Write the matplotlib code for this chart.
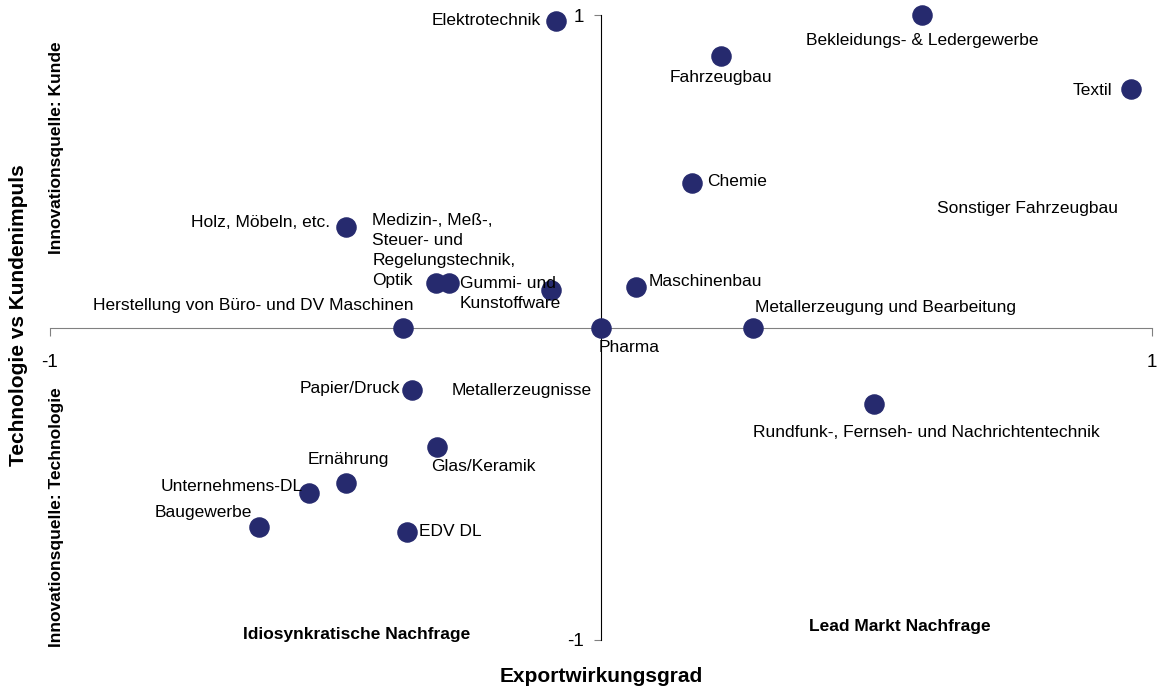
import matplotlib
matplotlib.use("Agg")
import matplotlib.pyplot as plt

plt.rcParams['font.family'] = ['Liberation Sans', 'DejaVu Sans']

# data
branchen = ["Elektrotechnik", "Bekleidungs- & Ledergewerbe", "Fahrzeugbau", "Textil",
            "Chemie", "Holz, Möbeln, etc.",
            "Medizin-, Meß-,\nSteuer- und\nRegelungstechnik,\nOptik",
            "Gummi- und\nKunstoffware", "", "Maschinenbau",
            "Herstellung von Büro- und DV Maschinen", "Pharma",
            "Metallerzeugung und Bearbeitung",
            "Rundfunk-, Fernseh- und Nachrichtentechnik", "Papier/Druck",
            "Glas/Keramik", "Ernährung", "Unternehmens-DL", "Baugewerbe", "EDV DL"]
export = [-0.082, 0.583, 0.218, 0.962, 0.165, -0.463, -0.299, -0.276, -0.091, 0.064,
          -0.359, 0.0, 0.276, 0.495, -0.343, -0.297, -0.463, -0.530, -0.620, -0.352]
impuls = [0.981, 1.0, 0.869, 0.763, 0.462, 0.322, 0.142, 0.142, 0.12, 0.131,
          0.0, 0.0, 0.0, -0.246, -0.2, -0.382, -0.499, -0.53, -0.637, -0.653]

# extra labels without a visible point
extra_labels = ["Sonstiger Fahrzeugbau", "Metallerzeugnisse"]
extra_x = [0.610, -0.272]
extra_y = [0.382, -0.2]

# label placement (offset in pixels, alignment)
offsets = [(-15, 0, "right"), (0, -25, "center"), (0, -22, "center"),
           (-19, -1, "right"), (15, 2, "left"), (-16, 4, "right"),
           (-64, 33, "left"), (11, -10, "left"), (0, 0, "left"),
           (12, 5, "left"), (10, 22, "right"), (-2, -20, "left"),
           (2, 20, "left"), (53, -28, "center"), (-12, 1, "right"),
           (-6, -20, "left"), (2, 24, "center"), (-6, 7, "right"),
           (-7, 14, "right"), (12, 0, "left")]

fig = plt.figure(figsize=(11.57, 6.89), dpi=100)
ax = fig.add_axes([50 / 1157, 49 / 689, 1102 / 1157, 625 / 689])
ax.set_xlim(-1, 1)
ax.set_ylim(-1, 1)

ax.scatter(export, impuls, s=190, color="#262a6e", zorder=3, clip_on=False)

for name, x, y, (dx, dy, ha) in zip(branchen, export, impuls, offsets):
    if name:
        ax.annotate(name, (x, y), xytext=(dx, dy), textcoords="offset pixels",
                    ha=ha, va="center", fontsize=12.5, linespacing=1.42, zorder=4)

for name, x, y in zip(extra_labels, extra_x, extra_y):
    ax.text(x, y, name, ha="left", va="center", fontsize=12.5)

# axes through the origin
ax.spines['left'].set_position(('data', 0))
ax.spines['bottom'].set_position(('data', 0))
ax.spines['top'].set_visible(False)
ax.spines['right'].set_visible(False)
ax.spines['bottom'].set_color("#808080")
ax.spines['left'].set_color("black")
ax.set_xticks([-1, 1])
ax.set_yticks([-1, 1])
ax.set_xticklabels(["-1", "1"], fontsize=13.5)
ax.set_yticklabels(["-1", "1"], fontsize=13.5)
ax.tick_params(axis="x", direction="out", length=6, color="#808080", pad=13)
ax.tick_params(axis="y", direction="out", length=5, color="#808080", pad=7)

fig.text(601 / 1157, 1 - 677 / 689, "Exportwirkungsgrad", ha="center", va="center",
         fontsize=15, fontweight="bold")
fig.text(19 / 1157, 1 - 315 / 689, "Technologie vs Kundenimpuls", ha="center",
         va="center", rotation=90, fontsize=15, fontweight="bold")
fig.text(57 / 1157, 1 - 148 / 689, "Innovationsquelle: Kunde", ha="center",
         va="center", rotation=90, fontsize=12.5, fontweight="bold")
fig.text(57 / 1157, 1 - 517 / 689, "Innovationsquelle: Technologie", ha="center",
         va="center", rotation=90, fontsize=12.5, fontweight="bold")
fig.text(357 / 1157, 1 - 634 / 689, "Idiosynkratische Nachfrage", ha="center",
         va="center", fontsize=12.5, fontweight="bold")
fig.text(900 / 1157, 1 - 627 / 689, "Lead Markt Nachfrage", ha="center",
         va="center", fontsize=12.5, fontweight="bold")

fig.savefig("out.png", dpi=100)
